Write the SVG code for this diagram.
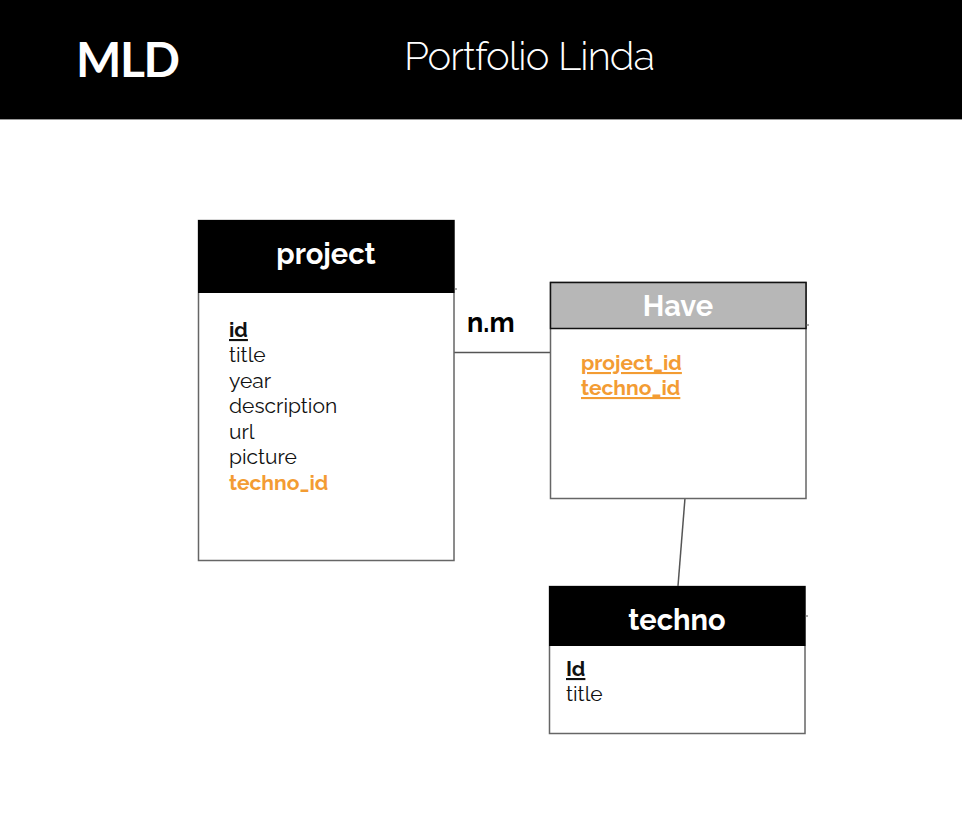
<svg xmlns="http://www.w3.org/2000/svg" width="962" height="816" viewBox="0 0 962 816">
<style>
.head{font-family:Raleway,Lato,"Open Sans","Liberation Sans",sans-serif;font-weight:bold;fill:#fff;font-size:29px;text-anchor:middle}
.fld{font-family:Raleway,Lato,"Open Sans","Liberation Sans",sans-serif;font-size:21px;fill:#111}
.key{font-weight:bold;text-decoration:underline}
.fk{fill:#f39c33;font-weight:bold}
.box{fill:#fff;stroke:#666;stroke-width:1.5}
.conn{stroke:#555;stroke-width:1.5;fill:none}
</style>
<rect x="0" y="0" width="962" height="816" fill="#fff"/>
<g id="header">
<rect x="0" y="0" width="962" height="120" fill="#000"/>
<line x1="0" y1="119.5" x2="962" y2="119.5" stroke="#999" stroke-width="1"/>
<text x="76" y="77" font-family="Lato,'Open Sans','Liberation Sans',sans-serif" font-weight="bold" font-size="48" fill="#fff" textLength="104">MLD</text>
<text x="404" y="70" font-family="Raleway,Lato,'Open Sans','Liberation Sans',sans-serif" font-weight="300" font-size="40" fill="#fff" textLength="251">Portfolio Linda</text>
</g>
<g id="connectors">
<line class="conn" x1="454" y1="352.5" x2="550" y2="352.5"/>
<line class="conn" x1="685" y1="498" x2="678" y2="586"/>
<text x="467" y="332" font-family="Raleway,Lato,'Open Sans','Liberation Sans',sans-serif" font-weight="bold" font-size="27" fill="#000">n.m</text>
</g>
<g id="project">
<rect class="box" x="198.5" y="220.5" width="255.5" height="340"/>
<rect x="198" y="220" width="256.5" height="73" fill="#000"/>
<line x1="454" y1="289" x2="457" y2="289" stroke="#555" stroke-width="1"/>
<text class="head" x="326" y="264">project</text>
<text class="fld key" x="229" y="337">id</text>
<text class="fld" x="229" y="362">title</text>
<text class="fld" x="229" y="388">year</text>
<text class="fld" x="229" y="413">description</text>
<text class="fld" x="229" y="439">url</text>
<text class="fld" x="229" y="464">picture</text>
<text class="fld fk" x="229" y="490">techno_id</text>
</g>
<g id="have">
<rect class="box" x="550.5" y="282.5" width="255.5" height="216"/>
<rect x="550.5" y="282.5" width="255.5" height="46" fill="#b7b7b7" stroke="#111" stroke-width="1.5"/>
<line x1="806" y1="325" x2="809" y2="325" stroke="#555" stroke-width="1"/>
<text class="head" x="678" y="316">Have</text>
<text class="fld fk key" x="581" y="370">project_id</text>
<text class="fld fk key" x="581" y="395">techno_id</text>
</g>
<g id="techno">
<rect class="box" x="549.5" y="586.5" width="255.5" height="147"/>
<rect x="549" y="586" width="256.5" height="60" fill="#000"/>
<line x1="805" y1="616" x2="808" y2="616" stroke="#555" stroke-width="1"/>
<text class="head" x="677" y="630">techno</text>
<text class="fld key" x="566" y="676">Id</text>
<text class="fld" x="566" y="701">title</text>
</g>
</svg>
